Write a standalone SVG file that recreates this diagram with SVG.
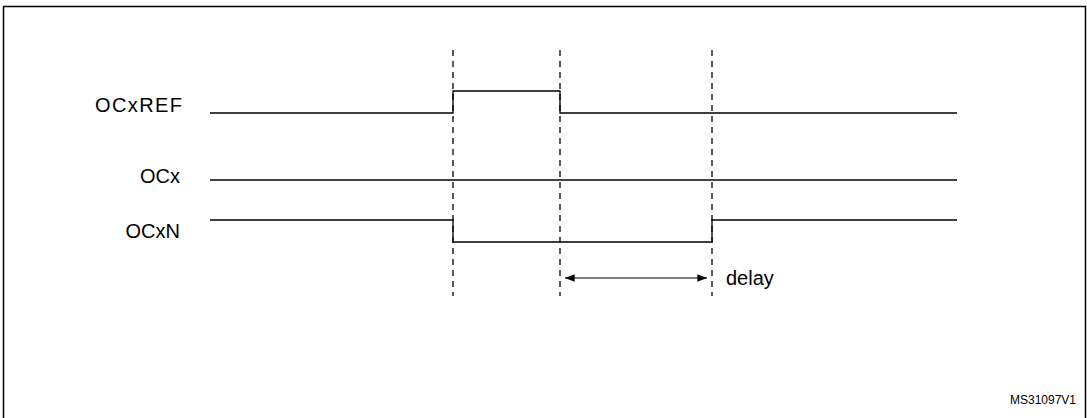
<svg xmlns="http://www.w3.org/2000/svg" width="1087" height="418" viewBox="0 0 1087 418">
<style>
.sig{fill:none;stroke:#000;stroke-width:1.3}
.dash{stroke:#000;stroke-width:1.3;stroke-dasharray:6,5}
text{font-family:"Liberation Sans",Arial,sans-serif;font-size:20px;fill:#000}
.lbl{text-anchor:end}
</style>
<defs>
<marker id="ah" viewBox="0 0 10 10" refX="10" refY="5" markerWidth="8" markerHeight="8" orient="auto-start-reverse"><path d="M0,1 L10,5 L0,9 z" fill="#000"/></marker>
</defs>
<rect x="0" y="0" width="1087" height="418" fill="#fff"/>
<rect x="3.5" y="6.5" width="1082" height="414" fill="none" stroke="#000" stroke-width="1.5"/>
<g id="OCxREF"><text class="lbl" x="182" y="112" textLength="87">OCxREF</text><path class="sig" d="M210,113 H453 V91 H560 V113 H957"/></g>
<g id="OCx"><text class="lbl" x="180" y="183">OCx</text><path class="sig" d="M210,180 H957"/></g>
<g id="OCxN"><text class="lbl" x="180" y="238">OCxN</text><path class="sig" d="M210,220 H453 V242 H712 V220 H957"/></g>
<g id="connectors">
<line class="dash" x1="453" y1="50" x2="453" y2="296"/>
<line class="dash" x1="560" y1="50" x2="560" y2="296"/>
<line class="dash" x1="712" y1="50" x2="712" y2="296"/>
<line x1="565" y1="278" x2="707" y2="278" stroke="#000" stroke-width="1.2" marker-start="url(#ah)" marker-end="url(#ah)"/>
</g>
<g id="delay"><text x="726" y="285">delay</text></g>
<text x="1010" y="404" style="font-size:12px">MS31097V1</text>
</svg>
